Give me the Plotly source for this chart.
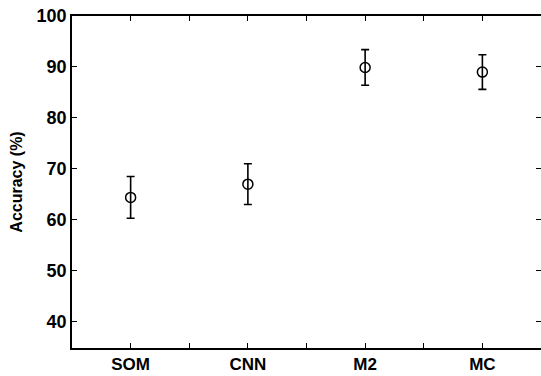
import plotly.graph_objects as go

categories = ["SOM", "CNN", "M2", "MC"]
accuracy = [64.4, 67.0, 89.9, 89.0]
error = [4.1, 4.0, 3.5, 3.4]
y_ticks = [40, 50, 60, 70, 80, 90, 100]

xpos = list(range(1, len(categories) + 1))
tickvals = []
ticktext = []
for i, c in zip(xpos, categories):
    tickvals += [i, i + 0.5]
    ticktext += [c, ""]

fig = go.Figure()
fig.add_trace(go.Scatter(
    x=xpos, y=accuracy, mode="markers",
    marker=dict(symbol="circle-open", size=10, color="black", line=dict(width=1.5, color="black")),
    error_y=dict(type="data", array=error, visible=True, color="black", thickness=1.6, width=4),
    showlegend=False,
))

font = dict(family="Liberation Sans, Arial, sans-serif", size=18, color="black", weight="bold")

fig.update_layout(
    width=541, height=376,
    margin=dict(l=72, r=0, t=16, b=28),
    paper_bgcolor="white", plot_bgcolor="white",
    xaxis=dict(
        range=[0.5, 4.5], tickvals=tickvals, ticktext=ticktext,
        ticks="inside", ticklen=5, tickwidth=1.2, tickcolor="black",
        showline=True, linecolor="black", linewidth=1.5, mirror="ticks",
        showgrid=False, zeroline=False, tickfont=dict(font, size=17),
        automargin=False,
    ),
    yaxis=dict(
        range=[34.85, 100], tickvals=y_ticks,
        ticks="inside", ticklen=5, tickwidth=1.2, tickcolor="black",
        showline=True, linecolor="black", linewidth=1.5, mirror="ticks",
        showgrid=False, zeroline=False, tickfont=font,
        title=dict(text="Accuracy (%)", font=dict(font, size=16), standoff=10),
        automargin=False,
    ),
)

fig.write_html(
    "out.html",
    config={"displayModeBar": False},
    post_script="document.body.style.margin='0';document.body.style.overflow='hidden';",
)
